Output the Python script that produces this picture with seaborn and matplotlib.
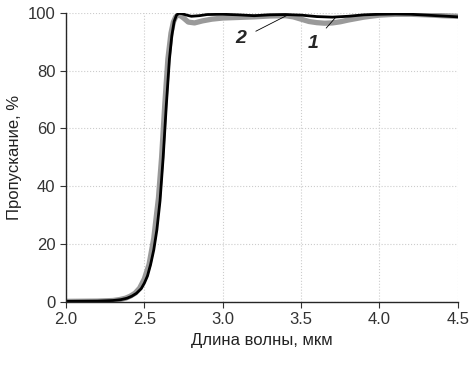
import matplotlib
matplotlib.use('Agg')
import matplotlib.pyplot as plt
import seaborn as sns
import pandas as pd

sns.set_style('ticks')
plt.rcParams['font.family'] = ['Liberation Sans Narrow', 'Liberation Sans', 'DejaVu Sans']
plt.rcParams['font.size'] = 11

# curve 1 (grey, thick)
wl_1 = [2.0, 2.2, 2.3, 2.34, 2.38, 2.41, 2.44, 2.47, 2.5, 2.53, 2.56, 2.59, 2.61, 2.63, 2.65,
        2.67, 2.685, 2.7, 2.715, 2.73, 2.75, 2.78, 2.82, 2.87, 2.93, 3.0, 3.1, 3.2, 3.3, 3.4,
        3.45, 3.5, 3.55, 3.6, 3.65, 3.7, 3.75, 3.8, 3.9, 4.0, 4.1, 4.2, 4.3, 4.4, 4.5]
tr_1 = [0.2, 0.3, 0.5, 0.8, 1.3, 2.0, 3.0, 4.8, 8, 13, 22, 36, 50, 68, 84,
        93, 96.8, 98.6, 99.2, 99.0, 98.2, 96.8, 96.5, 97.2, 97.8, 98.2, 98.4, 98.6, 98.9, 99.0,
        98.6, 97.8, 97.0, 96.6, 96.4, 96.5, 96.9, 97.5, 98.5, 99.2, 99.5, 99.5, 99.3, 99.0, 98.8]

# curve 2 (black)
wl_2 = [2.0, 2.2, 2.3, 2.35, 2.39, 2.42, 2.45, 2.48, 2.5, 2.52, 2.54, 2.56, 2.58, 2.6, 2.62,
        2.64, 2.66, 2.675, 2.69, 2.705, 2.72, 2.74, 2.77, 2.8, 2.85, 2.9, 3.0, 3.1, 3.2, 3.3,
        3.4, 3.5, 3.6, 3.7, 3.8, 3.9, 4.0, 4.1, 4.2, 4.3, 4.4, 4.5]
tr_2 = [0.2, 0.3, 0.5, 0.8, 1.3, 2.0, 3.0, 4.6, 6.5, 9, 13, 18, 25, 35, 50,
        68, 84, 92, 97, 99.2, 99.8, 99.7, 99.2, 98.8, 99.0, 99.4, 99.5, 99.3, 99.0, 99.3,
        99.4, 99.2, 98.7, 98.5, 98.8, 99.3, 99.5, 99.6, 99.5, 99.2, 98.9, 98.6]

df1 = pd.DataFrame({'x': wl_1, 'y': tr_1})
df2 = pd.DataFrame({'x': wl_2, 'y': tr_2})

fig = plt.figure(figsize=(4.73, 3.66), dpi=100)
ax = fig.add_axes([0.1395, 0.175, 0.8285, 0.79])

sns.lineplot(data=df1, x='x', y='y', color='#9a9a9a', linewidth=3.8, ax=ax)
sns.lineplot(data=df2, x='x', y='y', color='black', linewidth=2.0, ax=ax)

ax.set_xlim(2.0, 4.5)
ax.set_ylim(0, 100)
ax.set_xticks([2.0, 2.5, 3.0, 3.5, 4.0, 4.5])
ax.set_xticklabels(['2.0', '2.5', '3.0', '3.5', '4.0', '4.5'])
ax.set_yticks([0, 20, 40, 60, 80, 100])
ax.grid(True, color='#cccccc', linestyle=':', linewidth=0.8)
ax.set_axisbelow(True)
sns.despine(ax=ax)
for s in ['left', 'bottom']:
    ax.spines[s].set_linewidth(1.0)
ax.tick_params(labelsize=12, length=4, width=0.8, colors='#333333')
ax.set_xlabel('Длина волны, мкм', fontsize=12, color='#222222')
ax.set_ylabel('Пропускание, %', fontsize=12, color='#222222')

ax.annotate('2', xy=(3.42, 99.4), xytext=(3.116, 91.0), fontsize=14, fontweight='bold',
            fontstyle='italic', ha='center', va='center',
            arrowprops=dict(arrowstyle='-', color='black', lw=0.6, shrinkA=5, shrinkB=0))
ax.annotate('1', xy=(3.72, 98.4), xytext=(3.575, 89.5), fontsize=14, fontweight='bold',
            fontstyle='italic', ha='center', va='center',
            arrowprops=dict(arrowstyle='-', color='black', lw=0.6, shrinkA=5, shrinkB=0))

fig.savefig('out.png', dpi=100)
